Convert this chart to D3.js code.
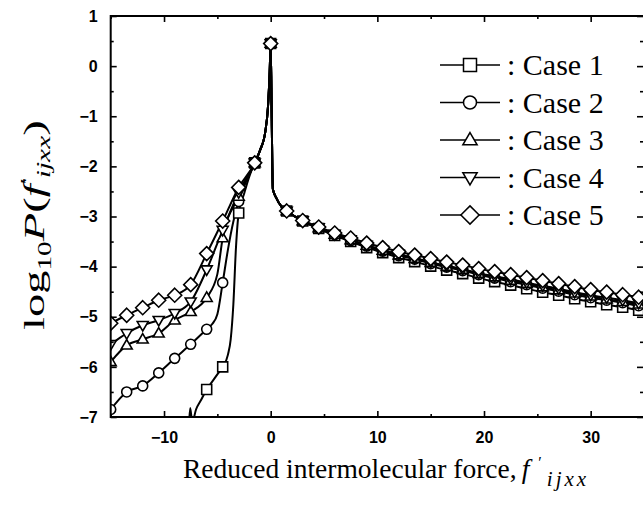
<!DOCTYPE html>
<html><head><meta charset="utf-8">
<script src="https://cdn.jsdelivr.net/npm/d3@7"></script>
<style>html,body{margin:0;padding:0;background:#fff;}svg{display:block;}</style>
</head><body>
<svg id="chart" width="643" height="510"></svg>
<script>
// ---------- data ----------
const forceX = [-15, -13.5, -12, -10.5, -9, -7.7, -7.55, -7.5, -7.35, -7.0, -6.5, -6, -5.5, -5, -4.5, -4, -3.75, -3.5, -3.25, -3, -2.5, -2, -1.5,
  -1, -0.5, -0.25, -0.1, 0, 0.1, 0.2, 0.5, 1,
  1.5, 3, 4.5, 6, 7.5, 9, 10.5, 12, 13.5, 15, 16.5, 18, 19.5, 21, 22.5, 24, 25.5, 27, 28.5, 30, 31.5, 33, 34.5, 35];

const peakY = [-1.68, -1.3, -0.8, -0.15, 0.45, -1.1, -2.45, -2.62, -2.8];

const case1Y = [null, null, null, null, null, -7.3, -6.82, null, -7.1, -6.85, -6.65, -6.45, -6.3, -6.15, -6.0, -5.75, -5.45, -4.75, -3.6, -2.93, -2.55, -2.2, -1.93,
  ...peakY,
  -2.89, -3.09, -3.24, -3.38, -3.50, -3.62, -3.72, -3.82, -3.90, -3.99, -4.07, -4.14, -4.23, -4.30, -4.37, -4.44, -4.51, -4.57, -4.64, -4.70, -4.76, -4.81, -4.87, -4.89];
const case2Y = [-6.85, -6.5, -6.38, -6.12, -5.83, null, null, -5.55, null, null, null, -5.25, -5.15, -4.95, -4.32, -3.65, null, -3.1, null, -2.7, null, null, -1.93,
  ...peakY,
  -2.89, -3.09, -3.23, -3.36, -3.48, -3.59, -3.69, -3.78, -3.85, -3.94, -4.01, -4.08, -4.16, -4.23, -4.30, -4.36, -4.43, -4.49, -4.56, -4.62, -4.67, -4.72, -4.78, -4.79];
const case3Y = [-5.9, -5.57, -5.45, -5.33, -5.07, null, null, -4.90, null, null, null, -4.62, null, -4.15, -3.43, null, null, null, null, -2.6, null, null, -1.93,
  ...peakY,
  -2.89, -3.09, -3.23, -3.36, -3.47, -3.58, -3.68, -3.77, -3.84, -3.92, -4.00, -4.06, -4.14, -4.21, -4.28, -4.34, -4.41, -4.47, -4.53, -4.59, -4.65, -4.70, -4.75, -4.76];
const case4Y = [-5.55, -5.33, -5.17, -5.07, -4.93, null, null, -4.70, null, null, null, -4.06, null, null, -3.27, null, null, null, null, -2.52, null, null, -1.93,
  ...peakY,
  -2.89, -3.08, -3.22, -3.35, -3.46, -3.57, -3.67, -3.75, -3.83, -3.91, -3.98, -4.05, -4.13, -4.19, -4.25, -4.32, -4.38, -4.44, -4.51, -4.57, -4.62, -4.67, -4.73, -4.74];
const case5Y = [-5.13, -4.97, -4.82, -4.67, -4.57, null, null, -4.36, null, null, null, -3.74, null, null, -3.09, null, null, null, null, -2.42, null, null, -1.93,
  ...peakY,
  -2.89, -3.08, -3.21, -3.33, -3.43, -3.53, -3.62, -3.70, -3.77, -3.84, -3.91, -3.97, -4.04, -4.10, -4.16, -4.22, -4.28, -4.34, -4.40, -4.46, -4.51, -4.56, -4.61, -4.62];

const caseNames = [": Case 1", ": Case 2", ": Case 3", ": Case 4", ": Case 5"];
const caseMarkers = ["square", "circle", "triUp", "triDown", "diamond"];
const caseValues = [case1Y, case2Y, case3Y, case4Y, case5Y];

const xTicks = [-10, 0, 10, 20, 30];
const xMinorTicks = [-15, -5, 5, 15, 25, 35];
const yTicks = [1, 0, -1, -2, -3, -4, -5, -6, -7];
const yMinorTicks = [0.5, -0.5, -1.5, -2.5, -3.5, -4.5, -5.5, -6.5];
const markerStep = 1.5;

// ---------- layout ----------
const svg = d3.select("#chart");
const L = 110.7, R = 644, T = 16, B = 417;
const x = d3.scaleLinear().domain([-15, 35]).range([L, R]);
const y = d3.scaleLinear().domain([-7, 1]).range([B, T]);

svg.append("defs").append("clipPath").attr("id", "plotClip")
  .append("rect").attr("x", L).attr("y", T).attr("width", R - L).attr("height", B - T);

function markerPath(type, s) {
  switch (type) {
    case "square": return `M${-s},${-s}H${s}V${s}H${-s}Z`;
    case "circle": return `M${s},0A${s},${s} 0 1,1 ${-s},0A${s},${s} 0 1,1 ${s},0Z`;
    case "triUp": { const h = s * 1.15; return `M0,${-h}L${s * 1.1},${h * 0.65}L${-s * 1.1},${h * 0.65}Z`; }
    case "triDown": { const h = s * 1.15; return `M0,${h}L${s * 1.1},${-h * 0.65}L${-s * 1.1},${-h * 0.65}Z`; }
    case "diamond": { const d = s * 1.4; return `M0,${-d}L${d},0L0,${d}L${-d},0Z`; }
  }
}

const plot = svg.append("g").attr("clip-path", "url(#plotClip)");
const line = d3.line().x(d => x(d[0])).y(d => y(d[1])).curve(d3.curveMonotoneX);

const seriesPts = caseValues.map(vals => forceX.map((f, i) => [f, vals[i]]).filter(d => d[1] !== null));

seriesPts.forEach(pts => {
  plot.append("path").attr("d", line(pts)).attr("fill", "none")
    .attr("stroke", "#000").attr("stroke-width", 2).attr("stroke-linejoin", "round");
});
seriesPts.forEach((pts, k) => {
  const mk = pts.filter(d => Math.abs(d[0] / markerStep - Math.round(d[0] / markerStep)) < 1e-6);
  plot.selectAll(null).data(mk).enter().append("path")
    .attr("d", markerPath(caseMarkers[k], 5))
    .attr("transform", d => `translate(${x(d[0])},${y(d[1])})`)
    .attr("fill", "#fff").attr("stroke", "#000").attr("stroke-width", 1.6);
});

// ---------- axes ----------
const tickFont = "'Liberation Sans', Arial, sans-serif";
function styleAxis(g) {
  g.select(".domain").remove();
  g.selectAll("line").attr("stroke", "#000").attr("stroke-width", 1.6);
  g.selectAll("text").attr("font-family", tickFont).attr("font-size", 16).attr("font-weight", "bold").attr("fill", "#000");
}
const fmt = d => (d < 0 ? "\u2212" + Math.abs(d) : "" + d);

svg.append("g").attr("transform", `translate(0,${B})`)
  .call(d3.axisBottom(x).tickValues(xTicks).tickSizeInner(-6).tickSizeOuter(0).tickPadding(15).tickFormat(fmt)).call(styleAxis);
svg.append("g").attr("transform", `translate(0,${B})`)
  .call(d3.axisBottom(x).tickValues(xMinorTicks).tickSizeInner(-3).tickSizeOuter(0).tickFormat("")).call(styleAxis);
svg.append("g").attr("transform", `translate(0,${T})`)
  .call(d3.axisTop(x).tickValues(xTicks).tickSizeInner(-6).tickSizeOuter(0).tickFormat("")).call(styleAxis);
svg.append("g").attr("transform", `translate(0,${T})`)
  .call(d3.axisTop(x).tickValues(xMinorTicks).tickSizeInner(-3).tickSizeOuter(0).tickFormat("")).call(styleAxis);

svg.append("g").attr("transform", `translate(${L},0)`)
  .call(d3.axisLeft(y).tickValues(yTicks).tickSizeInner(-6).tickSizeOuter(0).tickPadding(13).tickFormat(fmt)).call(styleAxis);
svg.append("g").attr("transform", `translate(${L},0)`)
  .call(d3.axisLeft(y).tickValues(yMinorTicks).tickSizeInner(-3).tickSizeOuter(0).tickFormat("")).call(styleAxis);
svg.append("g").attr("transform", `translate(${R},0)`)
  .call(d3.axisRight(y).tickValues(yTicks).tickSizeInner(-7).tickSizeOuter(0).tickFormat("")).call(styleAxis);
svg.append("g").attr("transform", `translate(${R},0)`)
  .call(d3.axisRight(y).tickValues(yMinorTicks).tickSizeInner(-4).tickSizeOuter(0).tickFormat("")).call(styleAxis);

svg.append("rect").attr("x", L).attr("y", T).attr("width", R - L).attr("height", B - T)
  .attr("fill", "none").attr("stroke", "#000").attr("stroke-width", 2);

// ---------- titles ----------
const serif = "'Liberation Serif', 'Times New Roman', serif";
const xt = svg.append("text").attr("x", 183).attr("y", 478).attr("font-family", serif).attr("font-size", 27.5).attr("fill", "#000");
xt.append("tspan").text("Reduced intermolecular force,");
xt.append("tspan").attr("dx", 5).attr("font-style", "italic").text("f");
xt.append("tspan").attr("dx", 9).attr("dy", -10).attr("font-size", 16).text("\u2032");
xt.append("tspan").attr("dx", 5).attr("dy", 18).attr("font-size", 21).attr("letter-spacing", 3).attr("font-style", "italic").text("ijxx");

const yt = svg.append("text").attr("transform", "translate(44,330) rotate(-90) scale(1.55,1)")
  .attr("font-family", serif).attr("font-size", 30).attr("fill", "#000");
yt.append("tspan").text("log");
yt.append("tspan").attr("dy", 7).attr("font-size", 19).text("10");
yt.append("tspan").attr("dy", -7).attr("font-style", "italic").text("P");
yt.append("tspan").text("(");
yt.append("tspan").attr("font-style", "italic").text("f");
yt.append("tspan").attr("dy", -10).attr("font-size", 18).text("\u2032");
yt.append("tspan").attr("dy", 16).attr("font-size", 19).attr("font-style", "italic").text("ijxx");
yt.append("tspan").attr("dy", -6).text(")");

// ---------- legend ----------
const lg = svg.append("g");
caseNames.forEach((name, i) => {
  const ly = 65 + 37.5 * i;
  lg.append("line").attr("x1", 440).attr("x2", 500).attr("y1", ly).attr("y2", ly).attr("stroke", "#000").attr("stroke-width", 1.5);
  lg.append("path").attr("d", markerPath(caseMarkers[i], 6.5)).attr("transform", `translate(470,${ly})`)
    .attr("fill", "#fff").attr("stroke", "#000").attr("stroke-width", 1.5);
  lg.append("text").attr("x", 507).attr("y", ly + 10).attr("font-family", serif).attr("font-size", 30).attr("fill", "#000").text(name);
});
</script>
</body></html>
